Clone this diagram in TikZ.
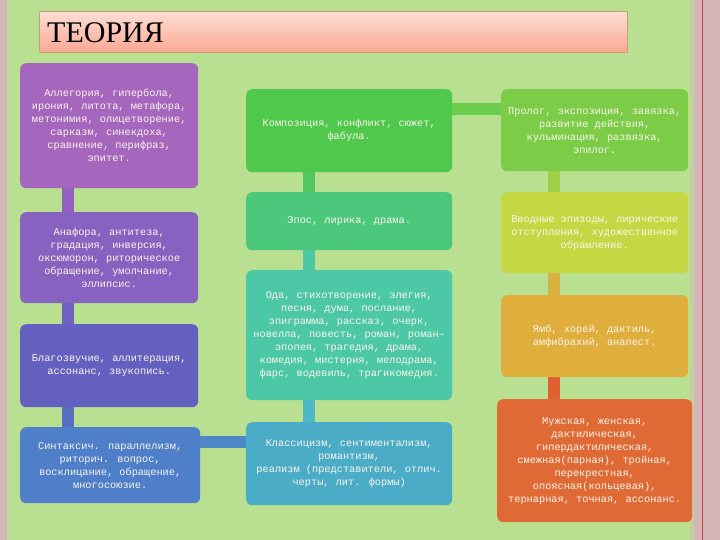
\documentclass[tikz,border=0pt]{standalone}
\usepackage{fontspec}
\setmainfont{Liberation Serif}
\newfontfamily\boxfont{Liberation Mono}
\usetikzlibrary{calc}
\pgfdeclarelayer{bg}
\pgfdeclarelayer{conn}
\pgfsetlayers{bg,conn,main}
\definecolor{bggreen}{RGB}{185,224,144}
\definecolor{bgpink}{RGB}{213,181,184}
\definecolor{redline}{RGB}{208,64,80}
\definecolor{cA}{HTML}{A566BE}
\definecolor{cB}{HTML}{8862C0}
\definecolor{cC}{HTML}{6460C0}
\definecolor{cD}{HTML}{4E7FC8}
\definecolor{cE}{HTML}{4FC84C}
\definecolor{cF}{HTML}{4CC87C}
\definecolor{cG}{HTML}{4DC8A6}
\definecolor{cH}{HTML}{4BACC8}
\definecolor{cI}{HTML}{7CCC48}
\definecolor{cJ}{HTML}{C5D844}
\definecolor{cK}{HTML}{E0AE3C}
\definecolor{cL}{HTML}{E06A36}
\definecolor{txt}{HTML}{FBF6EC}
\tikzset{
  box/.style={rectangle, rounded corners=6pt, anchor=north west, draw=none,
    text=txt, align=center, inner sep=2pt,
    font=\boxfont\fontsize{10.3}{13}\selectfont},
  conn/.style={line width=12pt, line cap=butt}
}
\begin{document}
\begin{tikzpicture}[x=1pt,y=-1pt]
\begin{pgfonlayer}{bg}
\fill[bgpink] (0,0) rectangle (720,540);
\fill[bggreen] (7,0) rectangle (690,540);
\fill[bggreen!60!bgpink] (690,0) rectangle (694,540);
\fill[redline] (701.5,0) rectangle (703,540);
\end{pgfonlayer}
\useasboundingbox (0,0) rectangle (720,540);
% title
\node[anchor=north west, minimum width=588pt, minimum height=41pt, draw={rgb,255:red,200;green,160;blue,110}, line width=0.6pt,
  top color={rgb,255:red,253;green,222;blue,212}, bottom color={rgb,255:red,251;green,168;blue,148}] (title) at (39,11) {};
\node[anchor=west, font=\fontsize{30}{32}\selectfont, inner sep=0pt] (ttext) at (47,33) {ТЕОРИЯ};
% left column
\node[box, fill=cA, minimum width=178pt, minimum height=125pt] (b1) at (20,63)
 {Аллегория, гипербола,\\ирония, литота, метафора,\\метонимия, олицетворение,\\сарказм, синекдоха,\\сравнение, перифраз,\\эпитет.};
\node[box, fill=cB, minimum width=178pt, minimum height=91pt] (b2) at (20,212)
 {Анафора, антитеза,\\градация, инверсия,\\оксюморон, риторическое\\обращение, умолчание,\\эллипсис.};
\node[box, fill=cC, minimum width=178pt, minimum height=83pt] (b3) at (20,324)
 {Благозвучие, аллитерация,\\ассонанс, звукопись.};
\node[box, fill=cD, minimum width=180pt, minimum height=76pt] (b4) at (20,427)
 {Синтаксич. параллелизм,\\риторич. вопрос,\\восклицание, обращение,\\многосоюзие.};
% middle column
\node[box, fill=cE, minimum width=206pt, minimum height=83pt] (b5) at (246,89)
 {Композиция, конфликт, сюжет,\\фабула.};
\node[box, fill=cF, minimum width=206pt, minimum height=58pt] (b6) at (246,192)
 {Эпос, лирика, драма.};
\node[box, fill=cG, minimum width=206pt, minimum height=130pt] (b7) at (246,270)
 {Ода, стихотворение, элегия,\\песня, дума, послание,\\эпиграмма, рассказ, очерк,\\новелла, повесть, роман, роман-\\эпопея, трагедия, драма,\\комедия, мистерия, мелодрама,\\фарс, водевиль, трагикомедия.};
\node[box, fill=cH, minimum width=206pt, minimum height=83pt] (b8) at (246,422)
 {Классицизм, сентиментализм,\\романтизм,\\реализм (представители, отлич.\\черты, лит. формы)};
% right column
\node[box, fill=cI, minimum width=187pt, minimum height=82pt] (b9) at (501,89)
 {Пролог, экспозиция, завязка,\\развитие действия,\\кульминация, развязка,\\эпилог.};
\node[box, fill=cJ, minimum width=187pt, minimum height=81pt] (b10) at (501,192)
 {Вводные эпизоды, лирические\\отступления, художественное\\обрамление.};
\node[box, fill=cK, minimum width=187pt, minimum height=82pt] (b11) at (501,295)
 {Ямб, хорей, дактиль,\\амфибрахий, анапест.};
\node[box, fill=cL, minimum width=195pt, minimum height=123pt] (b12) at (497,399)
 {Мужская, женская,\\дактилическая,\\гипердактилическая,\\смежная(парная), тройная,\\перекрестная,\\опоясная(кольцевая),\\тернарная, точная, ассонанс.};
% connectors
\begin{pgfonlayer}{conn}
\draw[conn, draw={rgb,255:red,146;green,96;blue,192}] ($(b1.south west)+(47.5,-2)$) -- ($(b2.north west)+(47.5,2)$);
\draw[conn, draw={rgb,255:red,112;green,96;blue,192}] ($(b2.south west)+(47.5,-2)$) -- ($(b3.north west)+(47.5,2)$);
\draw[conn, draw={rgb,255:red,88;green,112;blue,196}] ($(b3.south west)+(47.5,-2)$) -- ($(b4.north west)+(47.5,2)$);
\draw[conn, draw={rgb,255:red,78;green,136;blue,200}] ($(b4.north east)+(-2,15)$) -- ($(b8.north west)+(2,20)$);
\draw[conn, draw={rgb,255:red,80;green,200;blue,96}] ($(b5.south west)+(62.5,-2)$) -- ($(b6.north west)+(62.5,2)$);
\draw[conn, draw={rgb,255:red,76;green,200;blue,164}] ($(b6.south west)+(62.5,-2)$) -- ($(b7.north west)+(62.5,2)$);
\draw[conn, draw={rgb,255:red,76;green,184;blue,200}] ($(b7.south west)+(62.5,-2)$) -- ($(b8.north west)+(62.5,2)$);
\draw[conn, draw={rgb,255:red,108;green,204;blue,76}] ($(b5.north east)+(-2,20)$) -- ($(b9.north west)+(2,20)$);
\draw[conn, draw={rgb,255:red,160;green,208;blue,74}] ($(b9.south west)+(53,-2)$) -- ($(b10.north west)+(53,2)$);
\draw[conn, draw={rgb,255:red,216;green,176;blue,64}] ($(b10.south west)+(53,-2)$) -- ($(b11.north west)+(53,2)$);
\draw[conn, draw={rgb,255:red,224;green,96;blue,48}] ($(b11.south west)+(53,-2)$) -- ($(b12.north west)+(57,2)$);
\end{pgfonlayer}
\end{tikzpicture}
\end{document}
